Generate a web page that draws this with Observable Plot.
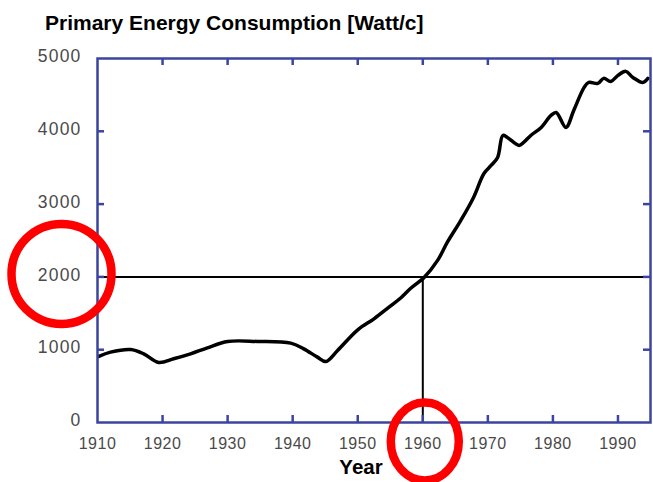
<!DOCTYPE html>
<html><head><meta charset="utf-8">
<script src="https://cdn.jsdelivr.net/npm/d3@7"></script>
<script src="https://cdn.jsdelivr.net/npm/@observablehq/plot@0.6"></script>
<style>
body{margin:0;background:#fff;}
#wrap{position:relative;width:653px;height:482px;font-family:"Liberation Sans",Arial,Helvetica,sans-serif;overflow:hidden;}
#chart{position:absolute;left:0;top:0;}
#title{position:absolute;left:45px;top:11px;font-weight:bold;font-size:21px;color:#000;white-space:nowrap;}
#xlabel{position:absolute;left:361px;top:455px;transform:translateX(-50%);font-weight:bold;font-size:20.5px;color:#000;}
g[aria-label="y-axis tick label"] text{letter-spacing:1.2px;}
g[aria-label="x-axis tick label"] text{letter-spacing:0.5px;}
</style></head><body>
<div id="wrap"><div id="chart"></div><div id="title">Primary Energy Consumption [Watt/c]</div><div id="xlabel">Year</div></div>
<script>
// Data
const years = [1910.2, 1912, 1915.1, 1917.1, 1919.4, 1921.7, 1924.3, 1926.9, 1930, 1934.6, 1939.7, 1941.7, 1943.8, 1945.1, 1946.9, 1950, 1952.5, 1954.8, 1956.6, 1958.1, 1960.2, 1962.3, 1963.8, 1965.8, 1967.8, 1969.4, 1970.5, 1971.5, 1972.3, 1973, 1974.8, 1975.5, 1976.6, 1978.2, 1979.7, 1980.5, 1982, 1983.2, 1984.8, 1985.5, 1986.9, 1987.8, 1988.9, 1990, 1991.2, 1992.3, 1993.8, 1994.6];
const watts = [907, 966, 1003, 943, 824, 875, 943, 1026, 1113, 1113, 1090, 1012, 898, 838, 989, 1273, 1424, 1584, 1710, 1840, 1992, 2230, 2480, 2770, 3092, 3421, 3531, 3641, 3943, 3916, 3806, 3847, 3943, 4053, 4218, 4259, 4053, 4287, 4603, 4671, 4658, 4727, 4685, 4768, 4823, 4740, 4671, 4727];
const xTickLabels = [1910, 1920, 1930, 1940, 1950, 1960, 1970, 1980, 1990];
const xInnerTicks = [1920, 1930, 1940, 1950, 1960, 1970, 1980, 1990];
const yTickLabels = [0, 1000, 2000, 3000, 4000, 5000];
const yInnerTicks = [1000, 2000, 3000, 4000];
const refYear = [1960];
const refWatt = [2000];
const circleLabelY = [2000];   // red circle around the "2000" tick label
const circleLabelX = [1960];   // red ellipse around the "1960" tick label

const series = years.map((y, i) => ({year: y, w: watts[i]}));
const blue = "#3b45a0";
const gray = "#4a4a4a";
const W = 653, H = 482, ML = 97, MR = 3, MT = 58, MB = 60;
const innerW = W - ML - MR, innerH = H - MT - MB, tick = 7;

function ellipse(rx, ry) {
  return (index, scales, values, dims, context, next) => {
    const g = next(index, scales, values, dims, context);
    d3.select(g).selectAll("circle").each(function() {
      const e = document.createElementNS("http://www.w3.org/2000/svg", "ellipse");
      for (const a of ["cx", "cy", "transform"]) if (this.hasAttribute(a)) e.setAttribute(a, this.getAttribute(a));
      e.setAttribute("rx", rx); e.setAttribute("ry", ry);
      this.replaceWith(e);
    });
    return g;
  };
}

const chart = Plot.plot({
  width: W, height: H,
  marginLeft: ML, marginRight: MR, marginTop: MT, marginBottom: MB,
  style: {fontFamily: '"Liberation Sans", Arial, Helvetica, sans-serif', background: "white", overflow: "visible", color: gray},
  x: {domain: [1910, 1995]},
  y: {domain: [0, 5000]},
  marks: [
    Plot.ruleY(refWatt, {stroke: "black", strokeWidth: 2}),
    Plot.ruleX(refYear, {y1: 0, y2: refWatt[0], stroke: "black", strokeWidth: 2}),
    Plot.line(series, {x: "year", y: "w", stroke: "black", strokeWidth: 3.5, curve: "catmull-rom", strokeLinejoin: "round", strokeLinecap: "round"}),
    // inward ticks (bottom, top, left, right)
    Plot.tickX(xInnerTicks, {x: d => d, insetTop: innerH - tick, stroke: blue, strokeWidth: 2.5}),
    Plot.tickX(xInnerTicks, {x: d => d, insetBottom: innerH - tick, stroke: blue, strokeWidth: 2.5}),
    Plot.tickY(yInnerTicks, {y: d => d, insetRight: innerW - tick, stroke: blue, strokeWidth: 2.5}),
    Plot.tickY(yInnerTicks, {y: d => d, insetLeft: innerW - tick, stroke: blue, strokeWidth: 2.5}),
    Plot.frame({stroke: blue, strokeWidth: 2.5}),
    // tick labels
    Plot.axisX({anchor: "bottom", ticks: xTickLabels, tickSize: 0, tickPadding: 15, tickFormat: d => String(d), label: null, fontSize: 16, fill: gray}),
    Plot.axisY({anchor: "left", ticks: yTickLabels, tickSize: 0, tickPadding: 16, tickFormat: d => String(d), label: null, fontSize: 17.5, fill: gray, dy: -2}),
    // red annotation circles
    Plot.dot(circleLabelY, {x: () => 1910, y: d => d, dx: -36, dy: -3, r: 50, stroke: "#ff0000", strokeWidth: 8.5, fill: "none"}),
    Plot.dot(circleLabelX, {x: d => d, y: () => 0, dx: 2, dy: 19, r: 37, stroke: "#ff0000", strokeWidth: 8.5, fill: "none", render: ellipse(34, 39)})
  ]
});
document.getElementById("chart").appendChild(chart);
</script>
</body></html>
